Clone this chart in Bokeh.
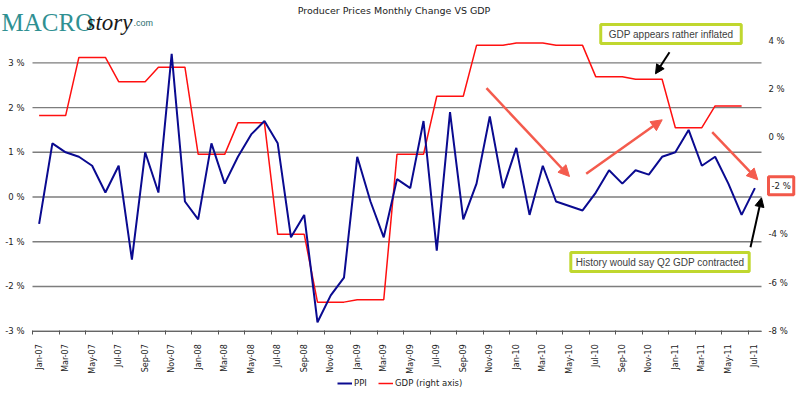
import math
from bokeh.plotting import figure
from bokeh.models import (Range1d, LinearAxis, FixedTicker, PrintfTickFormatter, Label,
                          Arrow, NormalHead, Legend, LegendItem)
from bokeh.embed import file_html
from bokeh.resources import INLINE

months = ["Jan-07", "Feb-07", "Mar-07", "Apr-07", "May-07", "Jun-07", "Jul-07", "Aug-07", "Sep-07", "Oct-07", "Nov-07", "Dec-07",
          "Jan-08", "Feb-08", "Mar-08", "Apr-08", "May-08", "Jun-08", "Jul-08", "Aug-08", "Sep-08", "Oct-08", "Nov-08", "Dec-08",
          "Jan-09", "Feb-09", "Mar-09", "Apr-09", "May-09", "Jun-09", "Jul-09", "Aug-09", "Sep-09", "Oct-09", "Nov-09", "Dec-09",
          "Jan-10", "Feb-10", "Mar-10", "Apr-10", "May-10", "Jun-10", "Jul-10", "Aug-10", "Sep-10", "Oct-10", "Nov-10", "Dec-10",
          "Jan-11", "Feb-11", "Mar-11", "Apr-11", "May-11", "Jun-11", "Jul-11"]

ppi = [-0.6, 1.2, 1.0, 0.9, 0.7, 0.1, 0.7, -1.4, 1.0, 0.1, 3.2, -0.1,
       -0.5, 1.2, 0.3, 0.9, 1.4, 1.7, 1.2, -0.9, -0.4, -2.8, -2.2, -1.8,
       0.9, -0.1, -0.9, 0.4, 0.2, 1.7, -1.2, 1.9, -0.5, 0.3, 1.8, 0.2,
       1.1, -0.4, 0.7, -0.1, -0.2, -0.3, 0.1, 0.6, 0.3, 0.6, 0.5, 0.9,
       1.0, 1.5, 0.7, 0.9, 0.3, -0.4, 0.2]

gdp = [0.9, 0.9, 0.9, 3.3, 3.3, 3.3, 2.3, 2.3, 2.3, 2.9, 2.9, 2.9,
       -0.7, -0.7, -0.7, 0.6, 0.6, 0.6, -4.0, -4.0, -4.0, -6.8, -6.8, -6.8,
       -6.7, -6.7, -6.7, -0.7, -0.7, -0.7, 1.7, 1.7, 1.7, 3.8, 3.8, 3.8,
       3.9, 3.9, 3.9, 3.8, 3.8, 3.8, 2.5, 2.5, 2.5, 2.4, 2.4, 2.4,
       0.4, 0.4, 0.4, 1.3, 1.3, 1.3, float("nan")]

left_ticks = [-3, -2, -1, 0, 1, 2, 3]
right_ticks = [-8, -6, -4, -2, 0, 2, 4]
left_top = 3.5      # left axis maximum
right_top = 4       # right axis maximum

# ---- layout (pixels) -------------------------------------------------------
W, H = 800, 395
PLOT_L, PLOT_R, PLOT_T, PLOT_B = 32, 761, 40, 330.7

n = len(months)
xs = list(range(n))
x_lo, x_hi = -0.5, n - 0.5
sx = (PLOT_R - PLOT_L) / (x_hi - x_lo)
syl = (PLOT_B - PLOT_T) / (left_top - left_ticks[0])
syr = (PLOT_B - PLOT_T) / (right_top - right_ticks[0])

def dx(px):
    return x_lo + (px - PLOT_L) / sx

def dy(py):
    return left_top - (py - PLOT_T) / syl

x_range = Range1d(dx(0), dx(W))
y_range = Range1d(dy(H), dy(0))
yr_right = Range1d(right_top - (H - PLOT_T) / syr, right_top + PLOT_T / syr)

p = figure(width=W, height=H, output_backend="svg", toolbar_location=None,
           x_range=x_range, y_range=y_range,
           min_border_left=0, min_border_right=0, min_border_top=0, min_border_bottom=0)
p.outline_line_color = None
p.background_fill_color = "white"
p.border_fill_color = "white"
p.extra_y_ranges = {"right": yr_right}
p.xgrid.visible = False
p.ygrid.visible = False

# gridlines over the plot area only
p.segment(x0=[x_lo] * len(left_ticks), x1=[x_hi] * len(left_ticks), y0=left_ticks, y1=left_ticks,
          line_color="#7d7d7d", line_width=1.4)

# x axis
xa = p.xaxis[0]
xa.fixed_location = left_ticks[0]
xa.bounds = (x_lo, x_hi)
xa.ticker = FixedTicker(ticks=xs[::2], minor_ticks=[i - 0.5 for i in xs[::2]])
xa.major_label_overrides = {i: months[i] for i in xs[::2]}
xa.major_label_orientation = math.pi / 2
xa.major_tick_out = 0
xa.major_tick_in = 0
xa.minor_tick_out = 3
xa.minor_tick_in = 1
xa.minor_tick_line_color = "#555555"
xa.axis_line_color = "#666666"
xa.major_label_text_font = "DejaVu Sans"
xa.major_label_text_font_size = "8px"
xa.major_label_text_color = "#222222"
xa.major_label_standoff = 10

# left axis
ya = p.yaxis[0]
ya.fixed_location = x_lo
ya.ticker = FixedTicker(ticks=left_ticks)
ya.formatter = PrintfTickFormatter(format="%d %%")
ya.axis_line_color = None
ya.major_tick_out = 0
ya.major_tick_in = 0
ya.minor_tick_out = 0
ya.minor_tick_in = 0
ya.major_label_text_font = "DejaVu Sans"
ya.major_label_text_font_size = "8.5px"
ya.major_label_text_color = "#222222"
ya.major_label_standoff = 8

# right axis
ra = LinearAxis(y_range_name="right", ticker=FixedTicker(ticks=right_ticks),
                formatter=PrintfTickFormatter(format="%d %%"))
ra.fixed_location = x_hi
ra.major_label_overrides = {-2: ""}
ra.axis_line_color = None
ra.major_tick_out = 0
ra.major_tick_in = 0
ra.minor_tick_out = 0
ra.minor_tick_in = 0
ra.major_label_text_font = "DejaVu Sans"
ra.major_label_text_font_size = "8.5px"
ra.major_label_text_color = "#222222"
ra.major_label_standoff = 7
p.add_layout(ra, "right")

# series
r_gdp = p.line(xs, gdp, line_color="#ff1010", line_width=1.5, y_range_name="right")
r_ppi = p.line(xs, ppi, line_color="#0a0a90", line_width=2)

legend = Legend(items=[LegendItem(label="PPI", renderers=[r_ppi]),
                       LegendItem(label="GDP (right axis)", renderers=[r_gdp])],
                orientation="horizontal", location=(337, 7), margin=0, padding=0,
                spacing=4, glyph_width=15, glyph_height=10, label_height=10, label_standoff=2,
                label_text_font="DejaVu Sans", label_text_font_size="8.5px",
                label_text_color="#222222", border_line_color=None,
                background_fill_alpha=0)
p.add_layout(legend, "center")

# title and logo
p.add_layout(Label(x=dx(393.5), y=dy(9.5), text="Producer Prices Monthly Change VS GDP",
                   text_align="center", text_baseline="middle", text_font="DejaVu Sans",
                   text_font_size="9.5px", text_color="#222222"))
p.add_layout(Label(x=dx(1), y=dy(22), text="MACRO", text_align="left", text_baseline="alphabetic",
                   text_font="Liberation Serif", text_font_size="25px", text_color="#2f9092"))
p.add_layout(Label(x=dx(86), y=dy(22), text="story", text_align="left", text_baseline="alphabetic",
                   text_font="Liberation Serif", text_font_style="italic", text_font_size="23px",
                   text_color="#1a1a1a"))
p.add_layout(Label(x=dx(133), y=dy(22), text=".com", text_align="left", text_baseline="alphabetic",
                   text_font="Liberation Sans", text_font_size="9px", text_color="#2c6e70"))

# annotation boxes
p.add_layout(Label(x=dx(670.5), y=dy(33.5), text="GDP appears rather inflated", text_align="center",
                   text_baseline="middle", text_font="Liberation Sans", text_font_size="10px",
                   text_color="#404040", background_fill_color="white",
                   border_line_color="#c0d72f", border_line_width=3,
                   padding=dict(left=8, right=8, top=4, bottom=4)))
p.add_layout(Label(x=dx(659.5), y=dy(261.5), text="History would say Q2 GDP contracted", text_align="center",
                   text_baseline="middle", text_font="Liberation Sans", text_font_size="10px",
                   text_color="#404040", background_fill_color="white",
                   border_line_color="#c0d72f", border_line_width=3,
                   padding=dict(left=5, right=5, top=4, bottom=4)))
p.add_layout(Label(x=dx(768), y=-2, y_range_name="right", text="-2 %", text_align="left",
                   text_baseline="middle", text_font="DejaVu Sans", text_font_size="8.5px",
                   text_color="#222222", background_fill_color="white",
                   border_line_color="#f2584a", border_line_width=3,
                   padding=dict(left=3, right=3, top=4, bottom=4)))

# arrows (pixel positions converted to data space)
def arrow(x0, y0, x1, y1, color, width, size):
    p.add_layout(Arrow(end=NormalHead(size=size, fill_color=color, line_color=color),
                       x_start=dx(x0), y_start=dy(y0), x_end=dx(x1), y_end=dy(y1),
                       line_color=color, line_width=width))

arrow(669, 51.7, 655, 73.3, "black", 2, 9)
arrow(750, 246.7, 761, 197.3, "black", 2, 9)
arrow(486, 87.7, 569, 176, "#f45b4d", 2.5, 11)
arrow(585.7, 173.3, 661.7, 119.3, "#f45b4d", 2.5, 11)
arrow(711.7, 131.7, 757.3, 179.3, "#f45b4d", 2.5, 11)

open("out.html", "w").write(file_html(p, INLINE))
